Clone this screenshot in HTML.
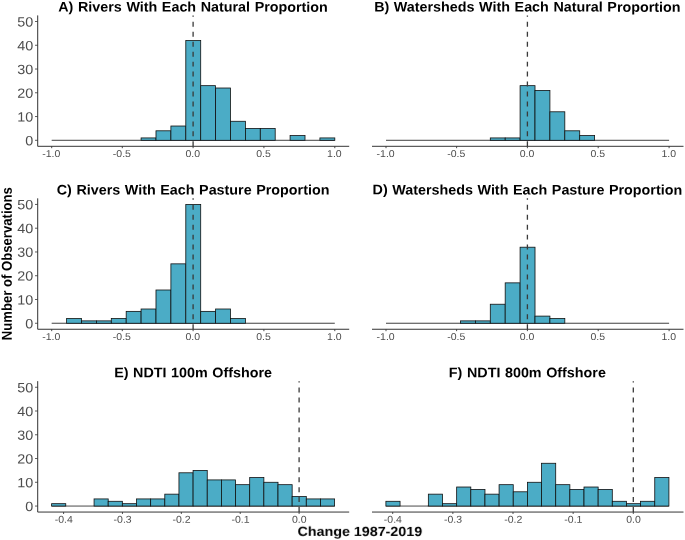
<!DOCTYPE html>
<html><head><meta charset="utf-8"><title>Change 1987-2019</title>
<style>
html,body{margin:0;padding:0;background:#fff;}
svg{display:block;text-rendering:geometricPrecision;font-family:"Liberation Sans",Arial,Helvetica,sans-serif;}
</style></head><body>
<svg width="685" height="540" viewBox="0 0 685 540">
<defs><filter id="soft" x="0" y="0" width="685" height="540" filterUnits="userSpaceOnUse"><feGaussianBlur stdDeviation="0.35"/></filter></defs>
<rect width="685" height="540" fill="#fff"/>
<g filter="url(#soft)">
<g fill="#4BACC6" stroke="#111" stroke-width="0.8" stroke-linejoin="miter">
<path d="M51.7 140.3H334.8" fill="none"/>
<rect x="141.1" y="137.92" width="14.9" height="2.38"/>
<rect x="156" y="130.8" width="14.9" height="9.5"/>
<rect x="170.9" y="126.04" width="14.9" height="14.26"/>
<rect x="185.8" y="40.51" width="14.9" height="99.79"/>
<rect x="200.7" y="85.65" width="14.9" height="54.65"/>
<rect x="215.6" y="88.03" width="14.9" height="52.27"/>
<rect x="230.5" y="121.29" width="14.9" height="19.01"/>
<rect x="245.4" y="128.42" width="14.9" height="11.88"/>
<rect x="260.3" y="128.42" width="14.9" height="11.88"/>
<rect x="290.1" y="135.55" width="14.9" height="4.75"/>
<rect x="319.9" y="137.92" width="14.9" height="2.38"/>
</g>
<path d="M193.1 146.3V15.4" stroke="#3a3a3a" stroke-width="1.3" stroke-dasharray="4.98 4.98" fill="none"/>
<path d="M37.7 15.4V146.3H349.2" stroke="#333" stroke-width="1.0" fill="none"/>
<path d="M35 140.3H37.7" stroke="#333" stroke-width="0.8"/>
<text transform="translate(33.3,145.2) rotate(0.05) scale(1.07,1)" font-size="13.4" text-anchor="end" fill="#4D4D4D">0</text>
<path d="M35 116.54H37.7" stroke="#333" stroke-width="0.8"/>
<text transform="translate(33.3,121.44) rotate(0.05) scale(1.07,1)" font-size="13.4" text-anchor="end" fill="#4D4D4D">10</text>
<path d="M35 92.78H37.7" stroke="#333" stroke-width="0.8"/>
<text transform="translate(33.3,97.68) rotate(0.05) scale(1.07,1)" font-size="13.4" text-anchor="end" fill="#4D4D4D">20</text>
<path d="M35 69.02H37.7" stroke="#333" stroke-width="0.8"/>
<text transform="translate(33.3,73.92) rotate(0.05) scale(1.07,1)" font-size="13.4" text-anchor="end" fill="#4D4D4D">30</text>
<path d="M35 45.26H37.7" stroke="#333" stroke-width="0.8"/>
<text transform="translate(33.3,50.16) rotate(0.05) scale(1.07,1)" font-size="13.4" text-anchor="end" fill="#4D4D4D">40</text>
<path d="M35 21.5H37.7" stroke="#333" stroke-width="0.8"/>
<text transform="translate(33.3,26.4) rotate(0.05) scale(1.07,1)" font-size="13.4" text-anchor="end" fill="#4D4D4D">50</text>
<path d="M51.7 146.3V148.2" stroke="#333" stroke-width="0.9"/>
<text transform="translate(51.3,157.1) rotate(0.05) scale(1.05,1)" font-size="10.0" text-anchor="middle" fill="#4D4D4D">-1.0</text>
<path d="M122.3 146.3V148.2" stroke="#333" stroke-width="0.9"/>
<text transform="translate(121.9,157.1) rotate(0.05) scale(1.05,1)" font-size="10.0" text-anchor="middle" fill="#4D4D4D">-0.5</text>
<path d="M193.1 146.3V148.2" stroke="#333" stroke-width="0.9"/>
<text transform="translate(192.7,157.1) rotate(0.05) scale(1.05,1)" font-size="10.0" text-anchor="middle" fill="#4D4D4D">0.0</text>
<path d="M263.9 146.3V148.2" stroke="#333" stroke-width="0.9"/>
<text transform="translate(263.5,157.1) rotate(0.05) scale(1.05,1)" font-size="10.0" text-anchor="middle" fill="#4D4D4D">0.5</text>
<path d="M334.8 146.3V148.2" stroke="#333" stroke-width="0.9"/>
<text transform="translate(334.4,157.1) rotate(0.05) scale(1.05,1)" font-size="10.0" text-anchor="middle" fill="#4D4D4D">1.0</text>
<text transform="translate(193.05,11.55) rotate(0.05) scale(1.038,1)" font-size="13.8" text-anchor="middle" fill="#000" font-weight="bold" word-spacing="0.6">A) Rivers With Each Natural Proportion</text>
<g fill="#4BACC6" stroke="#111" stroke-width="0.8" stroke-linejoin="miter">
<path d="M386 140.3H669.1" fill="none"/>
<rect x="490.3" y="137.92" width="14.9" height="2.38"/>
<rect x="505.2" y="137.92" width="14.9" height="2.38"/>
<rect x="520.1" y="85.65" width="14.9" height="54.65"/>
<rect x="535" y="90.4" width="14.9" height="49.9"/>
<rect x="549.9" y="111.79" width="14.9" height="28.51"/>
<rect x="564.8" y="130.8" width="14.9" height="9.5"/>
<rect x="579.7" y="135.55" width="14.9" height="4.75"/>
</g>
<path d="M527.4 146.3V15.4" stroke="#3a3a3a" stroke-width="1.3" stroke-dasharray="4.98 4.98" fill="none"/>
<path d="M372 146.3H683.5" stroke="#333" stroke-width="1.0" fill="none"/>
<path d="M386 146.3V148.2" stroke="#333" stroke-width="0.9"/>
<text transform="translate(385.6,157.1) rotate(0.05) scale(1.05,1)" font-size="10.0" text-anchor="middle" fill="#4D4D4D">-1.0</text>
<path d="M456.6 146.3V148.2" stroke="#333" stroke-width="0.9"/>
<text transform="translate(456.2,157.1) rotate(0.05) scale(1.05,1)" font-size="10.0" text-anchor="middle" fill="#4D4D4D">-0.5</text>
<path d="M527.4 146.3V148.2" stroke="#333" stroke-width="0.9"/>
<text transform="translate(527,157.1) rotate(0.05) scale(1.05,1)" font-size="10.0" text-anchor="middle" fill="#4D4D4D">0.0</text>
<path d="M598.2 146.3V148.2" stroke="#333" stroke-width="0.9"/>
<text transform="translate(597.8,157.1) rotate(0.05) scale(1.05,1)" font-size="10.0" text-anchor="middle" fill="#4D4D4D">0.5</text>
<path d="M669.1 146.3V148.2" stroke="#333" stroke-width="0.9"/>
<text transform="translate(668.7,157.1) rotate(0.05) scale(1.05,1)" font-size="10.0" text-anchor="middle" fill="#4D4D4D">1.0</text>
<text transform="translate(527.35,11.55) rotate(0.05) scale(1.038,1)" font-size="13.8" text-anchor="middle" fill="#000" font-weight="bold" word-spacing="0.6">B) Watersheds With Each Natural Proportion</text>
<g fill="#4BACC6" stroke="#111" stroke-width="0.8" stroke-linejoin="miter">
<path d="M51.7 323.25H334.8" fill="none"/>
<rect x="66.6" y="318.5" width="14.9" height="4.75"/>
<rect x="81.5" y="320.87" width="14.9" height="2.38"/>
<rect x="96.4" y="320.87" width="14.9" height="2.38"/>
<rect x="111.3" y="318.5" width="14.9" height="4.75"/>
<rect x="126.2" y="311.37" width="14.9" height="11.88"/>
<rect x="141.1" y="308.99" width="14.9" height="14.26"/>
<rect x="156" y="289.99" width="14.9" height="33.26"/>
<rect x="170.9" y="263.85" width="14.9" height="59.4"/>
<rect x="185.8" y="204.45" width="14.9" height="118.8"/>
<rect x="200.7" y="311.37" width="14.9" height="11.88"/>
<rect x="215.6" y="308.99" width="14.9" height="14.26"/>
<rect x="230.5" y="318.5" width="14.9" height="4.75"/>
</g>
<path d="M193.1 329.25V198.35" stroke="#3a3a3a" stroke-width="1.3" stroke-dasharray="4.98 4.98" fill="none"/>
<path d="M37.7 198.35V329.25H349.2" stroke="#333" stroke-width="1.0" fill="none"/>
<path d="M35 323.25H37.7" stroke="#333" stroke-width="0.8"/>
<text transform="translate(33.3,328.15) rotate(0.05) scale(1.07,1)" font-size="13.4" text-anchor="end" fill="#4D4D4D">0</text>
<path d="M35 299.49H37.7" stroke="#333" stroke-width="0.8"/>
<text transform="translate(33.3,304.39) rotate(0.05) scale(1.07,1)" font-size="13.4" text-anchor="end" fill="#4D4D4D">10</text>
<path d="M35 275.73H37.7" stroke="#333" stroke-width="0.8"/>
<text transform="translate(33.3,280.63) rotate(0.05) scale(1.07,1)" font-size="13.4" text-anchor="end" fill="#4D4D4D">20</text>
<path d="M35 251.97H37.7" stroke="#333" stroke-width="0.8"/>
<text transform="translate(33.3,256.87) rotate(0.05) scale(1.07,1)" font-size="13.4" text-anchor="end" fill="#4D4D4D">30</text>
<path d="M35 228.21H37.7" stroke="#333" stroke-width="0.8"/>
<text transform="translate(33.3,233.11) rotate(0.05) scale(1.07,1)" font-size="13.4" text-anchor="end" fill="#4D4D4D">40</text>
<path d="M35 204.45H37.7" stroke="#333" stroke-width="0.8"/>
<text transform="translate(33.3,209.35) rotate(0.05) scale(1.07,1)" font-size="13.4" text-anchor="end" fill="#4D4D4D">50</text>
<path d="M51.7 329.25V331.15" stroke="#333" stroke-width="0.9"/>
<text transform="translate(51.3,340.05) rotate(0.05) scale(1.05,1)" font-size="10.0" text-anchor="middle" fill="#4D4D4D">-1.0</text>
<path d="M122.3 329.25V331.15" stroke="#333" stroke-width="0.9"/>
<text transform="translate(121.9,340.05) rotate(0.05) scale(1.05,1)" font-size="10.0" text-anchor="middle" fill="#4D4D4D">-0.5</text>
<path d="M193.1 329.25V331.15" stroke="#333" stroke-width="0.9"/>
<text transform="translate(192.7,340.05) rotate(0.05) scale(1.05,1)" font-size="10.0" text-anchor="middle" fill="#4D4D4D">0.0</text>
<path d="M263.9 329.25V331.15" stroke="#333" stroke-width="0.9"/>
<text transform="translate(263.5,340.05) rotate(0.05) scale(1.05,1)" font-size="10.0" text-anchor="middle" fill="#4D4D4D">0.5</text>
<path d="M334.8 329.25V331.15" stroke="#333" stroke-width="0.9"/>
<text transform="translate(334.4,340.05) rotate(0.05) scale(1.05,1)" font-size="10.0" text-anchor="middle" fill="#4D4D4D">1.0</text>
<text transform="translate(193.05,194.5) rotate(0.05) scale(1.038,1)" font-size="13.8" text-anchor="middle" fill="#000" font-weight="bold" word-spacing="0.6">C) Rivers With Each Pasture Proportion</text>
<g fill="#4BACC6" stroke="#111" stroke-width="0.8" stroke-linejoin="miter">
<path d="M386 323.25H669.1" fill="none"/>
<rect x="460.5" y="320.87" width="14.9" height="2.38"/>
<rect x="475.4" y="320.87" width="14.9" height="2.38"/>
<rect x="490.3" y="304.24" width="14.9" height="19.01"/>
<rect x="505.2" y="282.86" width="14.9" height="40.39"/>
<rect x="520.1" y="247.22" width="14.9" height="76.03"/>
<rect x="535" y="316.12" width="14.9" height="7.13"/>
<rect x="549.9" y="318.5" width="14.9" height="4.75"/>
</g>
<path d="M527.4 329.25V198.35" stroke="#3a3a3a" stroke-width="1.3" stroke-dasharray="4.98 4.98" fill="none"/>
<path d="M372 329.25H683.5" stroke="#333" stroke-width="1.0" fill="none"/>
<path d="M386 329.25V331.15" stroke="#333" stroke-width="0.9"/>
<text transform="translate(385.6,340.05) rotate(0.05) scale(1.05,1)" font-size="10.0" text-anchor="middle" fill="#4D4D4D">-1.0</text>
<path d="M456.6 329.25V331.15" stroke="#333" stroke-width="0.9"/>
<text transform="translate(456.2,340.05) rotate(0.05) scale(1.05,1)" font-size="10.0" text-anchor="middle" fill="#4D4D4D">-0.5</text>
<path d="M527.4 329.25V331.15" stroke="#333" stroke-width="0.9"/>
<text transform="translate(527,340.05) rotate(0.05) scale(1.05,1)" font-size="10.0" text-anchor="middle" fill="#4D4D4D">0.0</text>
<path d="M598.2 329.25V331.15" stroke="#333" stroke-width="0.9"/>
<text transform="translate(597.8,340.05) rotate(0.05) scale(1.05,1)" font-size="10.0" text-anchor="middle" fill="#4D4D4D">0.5</text>
<path d="M669.1 329.25V331.15" stroke="#333" stroke-width="0.9"/>
<text transform="translate(668.7,340.05) rotate(0.05) scale(1.05,1)" font-size="10.0" text-anchor="middle" fill="#4D4D4D">1.0</text>
<text transform="translate(527.35,194.5) rotate(0.05) scale(1.038,1)" font-size="13.8" text-anchor="middle" fill="#000" font-weight="bold" word-spacing="0.6">D) Watersheds With Each Pasture Proportion</text>
<g fill="#4BACC6" stroke="#111" stroke-width="0.8" stroke-linejoin="miter">
<path d="M51.6 506.05H334.6" fill="none"/>
<rect x="51.6" y="503.67" width="14.15" height="2.38"/>
<rect x="94.05" y="498.92" width="14.15" height="7.13"/>
<rect x="108.2" y="501.3" width="14.15" height="4.75"/>
<rect x="122.35" y="503.67" width="14.15" height="2.38"/>
<rect x="136.5" y="498.92" width="14.15" height="7.13"/>
<rect x="150.65" y="498.92" width="14.15" height="7.13"/>
<rect x="164.8" y="494.17" width="14.15" height="11.88"/>
<rect x="178.95" y="472.79" width="14.15" height="33.26"/>
<rect x="193.1" y="470.41" width="14.15" height="35.64"/>
<rect x="207.25" y="479.91" width="14.15" height="26.14"/>
<rect x="221.4" y="479.91" width="14.15" height="26.14"/>
<rect x="235.55" y="484.67" width="14.15" height="21.38"/>
<rect x="249.7" y="477.54" width="14.15" height="28.51"/>
<rect x="263.85" y="482.29" width="14.15" height="23.76"/>
<rect x="278" y="484.67" width="14.15" height="21.38"/>
<rect x="292.15" y="496.55" width="14.15" height="9.5"/>
<rect x="306.3" y="498.92" width="14.15" height="7.13"/>
<rect x="320.45" y="498.92" width="14.15" height="7.13"/>
</g>
<path d="M299.1 512.05V381.15" stroke="#3a3a3a" stroke-width="1.3" stroke-dasharray="4.98 4.98" fill="none"/>
<path d="M37.7 381.15V512.05H349.2" stroke="#333" stroke-width="1.0" fill="none"/>
<path d="M35 506.05H37.7" stroke="#333" stroke-width="0.8"/>
<text transform="translate(33.3,510.95) rotate(0.05) scale(1.07,1)" font-size="13.4" text-anchor="end" fill="#4D4D4D">0</text>
<path d="M35 482.29H37.7" stroke="#333" stroke-width="0.8"/>
<text transform="translate(33.3,487.19) rotate(0.05) scale(1.07,1)" font-size="13.4" text-anchor="end" fill="#4D4D4D">10</text>
<path d="M35 458.53H37.7" stroke="#333" stroke-width="0.8"/>
<text transform="translate(33.3,463.43) rotate(0.05) scale(1.07,1)" font-size="13.4" text-anchor="end" fill="#4D4D4D">20</text>
<path d="M35 434.77H37.7" stroke="#333" stroke-width="0.8"/>
<text transform="translate(33.3,439.67) rotate(0.05) scale(1.07,1)" font-size="13.4" text-anchor="end" fill="#4D4D4D">30</text>
<path d="M35 411.01H37.7" stroke="#333" stroke-width="0.8"/>
<text transform="translate(33.3,415.91) rotate(0.05) scale(1.07,1)" font-size="13.4" text-anchor="end" fill="#4D4D4D">40</text>
<path d="M35 387.25H37.7" stroke="#333" stroke-width="0.8"/>
<text transform="translate(33.3,392.15) rotate(0.05) scale(1.07,1)" font-size="13.4" text-anchor="end" fill="#4D4D4D">50</text>
<path d="M63.58 512.05V513.95" stroke="#333" stroke-width="0.9"/>
<text transform="translate(63.78,522.85) rotate(0.05) scale(1.05,1)" font-size="10.0" text-anchor="middle" fill="#4D4D4D">-0.4</text>
<path d="M122.46 512.05V513.95" stroke="#333" stroke-width="0.9"/>
<text transform="translate(122.66,522.85) rotate(0.05) scale(1.05,1)" font-size="10.0" text-anchor="middle" fill="#4D4D4D">-0.3</text>
<path d="M181.34 512.05V513.95" stroke="#333" stroke-width="0.9"/>
<text transform="translate(181.54,522.85) rotate(0.05) scale(1.05,1)" font-size="10.0" text-anchor="middle" fill="#4D4D4D">-0.2</text>
<path d="M240.22 512.05V513.95" stroke="#333" stroke-width="0.9"/>
<text transform="translate(240.42,522.85) rotate(0.05) scale(1.05,1)" font-size="10.0" text-anchor="middle" fill="#4D4D4D">-0.1</text>
<path d="M299.1 512.05V513.95" stroke="#333" stroke-width="0.9"/>
<text transform="translate(299.3,522.85) rotate(0.05) scale(1.05,1)" font-size="10.0" text-anchor="middle" fill="#4D4D4D">0.0</text>
<text transform="translate(193.05,377.3) rotate(0.05) scale(1.038,1)" font-size="13.8" text-anchor="middle" fill="#000" font-weight="bold" word-spacing="0.6">E) NDTI 100m Offshore</text>
<g fill="#4BACC6" stroke="#111" stroke-width="0.8" stroke-linejoin="miter">
<path d="M385.9 506.05H668.9" fill="none"/>
<rect x="385.9" y="501.3" width="14.15" height="4.75"/>
<rect x="428.35" y="494.17" width="14.15" height="11.88"/>
<rect x="442.5" y="503.67" width="14.15" height="2.38"/>
<rect x="456.65" y="487.04" width="14.15" height="19.01"/>
<rect x="470.8" y="489.42" width="14.15" height="16.63"/>
<rect x="484.95" y="494.17" width="14.15" height="11.88"/>
<rect x="499.1" y="484.67" width="14.15" height="21.38"/>
<rect x="513.25" y="491.79" width="14.15" height="14.26"/>
<rect x="527.4" y="482.29" width="14.15" height="23.76"/>
<rect x="541.55" y="463.28" width="14.15" height="42.77"/>
<rect x="555.7" y="484.67" width="14.15" height="21.38"/>
<rect x="569.85" y="489.42" width="14.15" height="16.63"/>
<rect x="584" y="487.04" width="14.15" height="19.01"/>
<rect x="598.15" y="489.42" width="14.15" height="16.63"/>
<rect x="612.3" y="501.3" width="14.15" height="4.75"/>
<rect x="626.45" y="503.67" width="14.15" height="2.38"/>
<rect x="640.6" y="501.3" width="14.15" height="4.75"/>
<rect x="654.75" y="477.54" width="14.15" height="28.51"/>
</g>
<path d="M633.3 512.05V381.15" stroke="#3a3a3a" stroke-width="1.3" stroke-dasharray="4.98 4.98" fill="none"/>
<path d="M372 512.05H683.5" stroke="#333" stroke-width="1.0" fill="none"/>
<path d="M392.7 512.05V513.95" stroke="#333" stroke-width="0.9"/>
<text transform="translate(392.9,522.85) rotate(0.05) scale(1.05,1)" font-size="10.0" text-anchor="middle" fill="#4D4D4D">-0.4</text>
<path d="M452.85 512.05V513.95" stroke="#333" stroke-width="0.9"/>
<text transform="translate(453.05,522.85) rotate(0.05) scale(1.05,1)" font-size="10.0" text-anchor="middle" fill="#4D4D4D">-0.3</text>
<path d="M513 512.05V513.95" stroke="#333" stroke-width="0.9"/>
<text transform="translate(513.2,522.85) rotate(0.05) scale(1.05,1)" font-size="10.0" text-anchor="middle" fill="#4D4D4D">-0.2</text>
<path d="M573.15 512.05V513.95" stroke="#333" stroke-width="0.9"/>
<text transform="translate(573.35,522.85) rotate(0.05) scale(1.05,1)" font-size="10.0" text-anchor="middle" fill="#4D4D4D">-0.1</text>
<path d="M633.3 512.05V513.95" stroke="#333" stroke-width="0.9"/>
<text transform="translate(633.5,522.85) rotate(0.05) scale(1.05,1)" font-size="10.0" text-anchor="middle" fill="#4D4D4D">0.0</text>
<text transform="translate(527.35,377.3) rotate(0.05) scale(1.038,1)" font-size="13.8" text-anchor="middle" fill="#000" font-weight="bold" word-spacing="0.6">F) NDTI 800m Offshore</text>
<text transform="translate(11.8,263.7) rotate(-90.05) scale(1.0,1.09)" font-size="13.13" text-anchor="middle" fill="#000" font-weight="bold">Number of Observations</text>
<text transform="translate(359.9,535.9) rotate(0.05) scale(1.083,1)" font-size="13.2" text-anchor="middle" fill="#000" font-weight="bold">Change 1987-2019</text>
</g>
</svg>
</body></html>
